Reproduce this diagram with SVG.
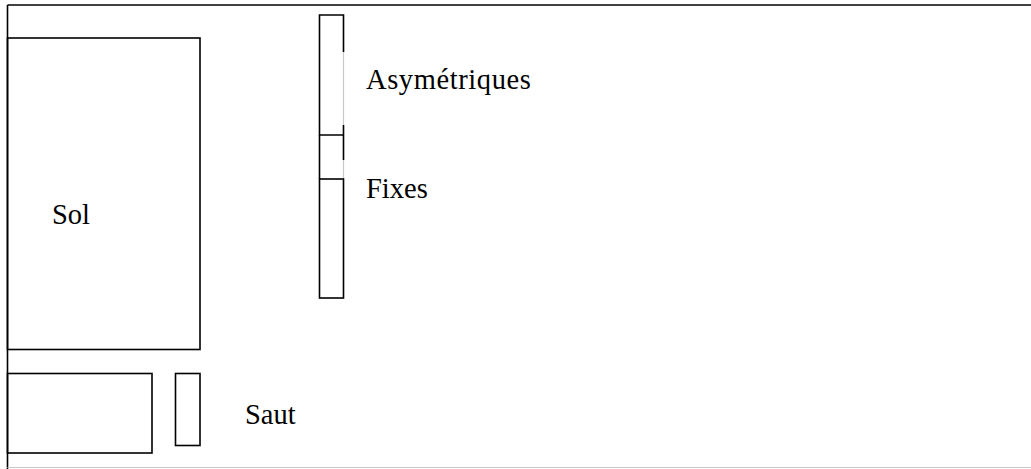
<svg xmlns="http://www.w3.org/2000/svg" width="1031" height="469" viewBox="0 0 1031 469">
<style>
.s{fill:none;stroke:#000;stroke-width:1.6}
.g{fill:none;stroke:#c8c8c8;stroke-width:1.2}
text{font-family:'Liberation Serif','Times New Roman',serif;font-size:28.5px;fill:#000}
</style>
<rect width="1031" height="469" fill="#fff"/>
<g id="frame">
<line class="s" x1="7.5" y1="5" x2="1031" y2="5" stroke-width="2" stroke="#222"/>
<line class="s" x1="7.5" y1="5" x2="7.5" y2="469"/>
<line class="g" x1="7.5" y1="467.5" x2="1031" y2="467.5"/>
</g>
<g id="sol">
<rect class="s" x="7.5" y="38" width="192.5" height="311.5"/>
<text x="52" y="223.5">Sol</text>
</g>
<g id="asymetriques">
<path class="s" d="M343.5,52 V15 H319.5 V135 H343.5 M343.5,125 V160"/>
<path class="g" d="M343.5,52 V125 M343.5,160 V179"/>
<text x="366" y="89" letter-spacing="0.6">Asymétriques</text>
</g>
<g id="fixes">
<rect class="s" x="319.5" y="179" width="24" height="119"/>
<line class="s" x1="319.5" y1="135" x2="319.5" y2="179"/>
<text x="366" y="197.5">Fixes</text>
</g>
<g id="saut">
<rect class="s" x="7.5" y="373.5" width="144.5" height="79.5"/>
<rect class="s" x="175.5" y="373.5" width="24.5" height="72"/>
<text x="245" y="424">Saut</text>
</g>
<g id="connectors"></g>
</svg>
